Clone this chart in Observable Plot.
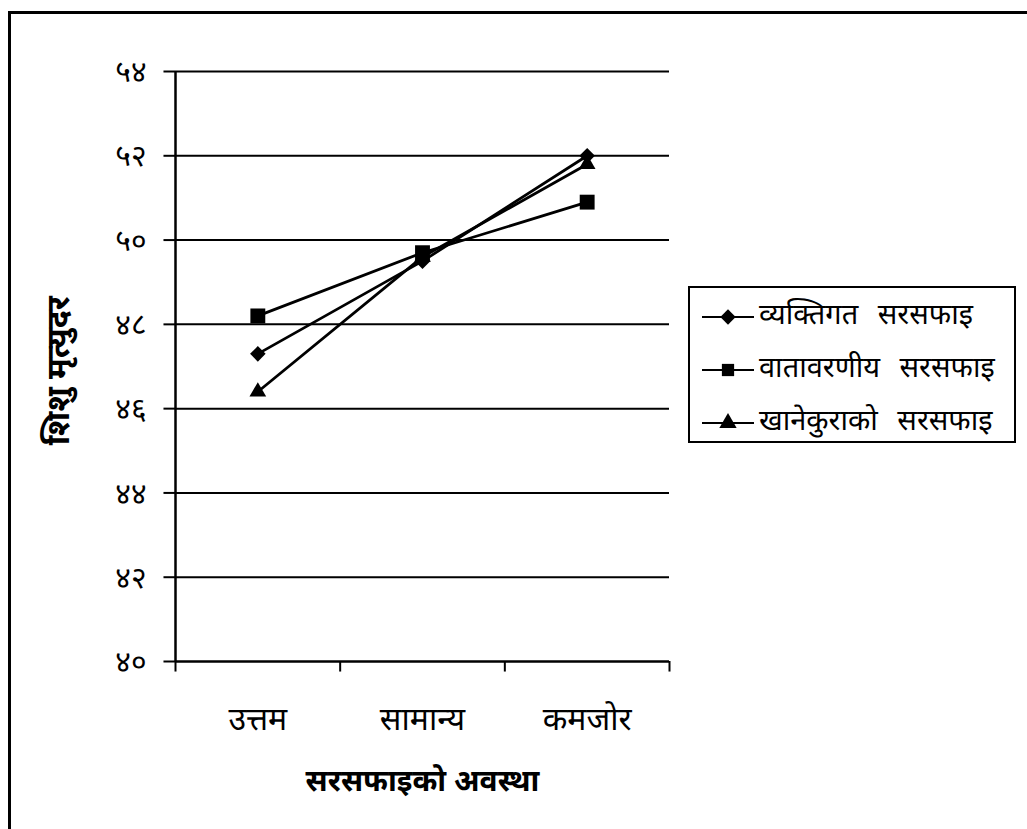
<!DOCTYPE html>
<html>
<head>
<meta charset="utf-8">
<script src="https://cdn.jsdelivr.net/npm/d3@7"></script>
<script src="https://cdn.jsdelivr.net/npm/@observablehq/plot@0.6"></script>
<style>
  html, body { margin: 0; padding: 0; background: #fff; overflow: hidden; }
  #wrap { position: relative; width: 1027px; height: 829px; font-family: "Noto Sans Devanagari", "Lohit Devanagari", "Noto Sans", sans-serif; }
  #border { position: absolute; left: 8px; top: 11px; width: 1100px; height: 900px; border-left: 3px solid #000; border-top: 3px solid #000; pointer-events: none; }
  #legend { position: absolute; left: 688px; top: 286px; width: 328px; height: 157px; border: 2px solid #000; box-sizing: border-box; background: #fff; }
  .row { position: absolute; left: 12px; height: 40px; display: flex; align-items: center; font-size: 29px; word-spacing: 12px; white-space: nowrap; }
  .row svg { margin-right: 5px; flex: none; }
</style>
</head>
<body>
<div id="wrap">
  <div id="chart"></div>
  <div id="legend"></div>
  <div id="border"></div>
</div>
<script>
// Sanitation condition categories (x axis)
const categories = ["उत्तम", "सामान्य", "कमजोर"];
// Series names
const seriesNames = ["व्यक्तिगत सरसफाइ", "वातावरणीय सरसफाइ", "खानेकुराको सरसफाइ"];
const seriesSymbols = ["diamond2", "square", "triangle"];
const seriesSizes = [7, 8.4, 6.2];
// Infant mortality rate values per series
const personal = [47.3, 49.5, 52.0];
const environmental = [48.2, 49.7, 50.9];
const food = [46.4, 49.6, 51.8];
// Y axis ticks
const yTicks = [40, 42, 44, 46, 48, 50, 52, 54];

const devDigits = "०१२३४५६७८९";
const toDev = n => String(n).replace(/[0-9]/g, d => devDigits[+d]);

const seriesValues = [personal, environmental, food];
const data = seriesValues.flatMap((vals, s) =>
  vals.map((v, i) => ({series: seriesNames[s], sym: seriesSymbols[s], r: seriesSizes[s], x: i + 0.5, cat: categories[i], y: v}))
);
const boundaries = d3.range(categories.length + 1);
const font = '"Noto Sans Devanagari", "Lohit Devanagari", "Noto Sans", sans-serif';
const tickLen = 0.07; // tick length in x units (about 12px)

const chart = Plot.plot({
  width: 1027,
  height: 829,
  marginLeft: 175,
  marginRight: 358,
  marginTop: 71,
  marginBottom: 168,
  style: {fontFamily: font, background: "transparent", color: "#000"},
  x: {type: "linear", domain: [0, categories.length], axis: null},
  y: {type: "linear", domain: [40, 54], axis: null},
  r: {type: "identity"},
  symbol: {type: "identity"},
  marks: [
    // horizontal gridlines
    Plot.ruleY(yTicks.filter(t => t > 40), {x1: 0, x2: categories.length, stroke: "#000", strokeWidth: 2}),
    // y axis line, ticks and labels
    Plot.ruleX([0], {y1: 40, y2: 54, stroke: "#000", strokeWidth: 2.5}),
    Plot.ruleY(yTicks, {x1: -tickLen, x2: 0, stroke: "#000", strokeWidth: 2}),
    Plot.text(yTicks, {x: 0, y: d => d, text: d => toDev(d), textAnchor: "end", dx: -29, dy: 1, fontSize: 30, fill: "#000"}),
    // x axis line, band boundary ticks and category labels
    Plot.ruleY([40], {x1: 0, x2: categories.length, stroke: "#000", strokeWidth: 2.5}),
    Plot.ruleX(boundaries, {y1: 40, y2: 39.75, stroke: "#000", strokeWidth: 2}),
    Plot.text(categories, {x: (d, i) => i + 0.5, y: 40, text: d => d, dy: 58, fontSize: 32, fill: "#000"}),
    // axis titles
    Plot.text(["सरसफाइको अवस्था"], {x: categories.length / 2, y: 40, dy: 120, fontSize: 30, fontWeight: "bold", fill: "#000"}),
    Plot.text(["शिशु मृत्युदर"], {x: 0, y: 46.9, dx: -117, rotate: -90, fontSize: 32, fontWeight: "bold", fill: "#000"}),
    // series lines and markers
    Plot.line(data, {x: "x", y: "y", z: "series", stroke: "#000", strokeWidth: 2.8}),
    Plot.dot(data, {x: "x", y: "y", symbol: "sym", r: "r", fill: "#000", stroke: "none"})
  ]
});
document.getElementById("chart").appendChild(chart);

// Legend
const legend = d3.select("#legend");
const legendSymbols = {diamond2: d3.symbolDiamond2, square: d3.symbolSquare, triangle: d3.symbolTriangle};
const legendSizes = [150, 150, 130];
seriesNames.forEach((name, i) => {
  const row = legend.append("div").attr("class", "row").style("top", (9 + i * 53) + "px");
  const svg = row.append("svg").attr("width", 52).attr("height", 20);
  svg.append("line").attr("x1", 0).attr("x2", 52).attr("y1", 10).attr("y2", 10).attr("stroke", "#000").attr("stroke-width", 2);
  svg.append("path").attr("d", d3.symbol(legendSymbols[seriesSymbols[i]], legendSizes[i])()).attr("transform", "translate(26,10)").attr("fill", "#000");
  row.append("span").text(name);
});
</script>
</body>
</html>
